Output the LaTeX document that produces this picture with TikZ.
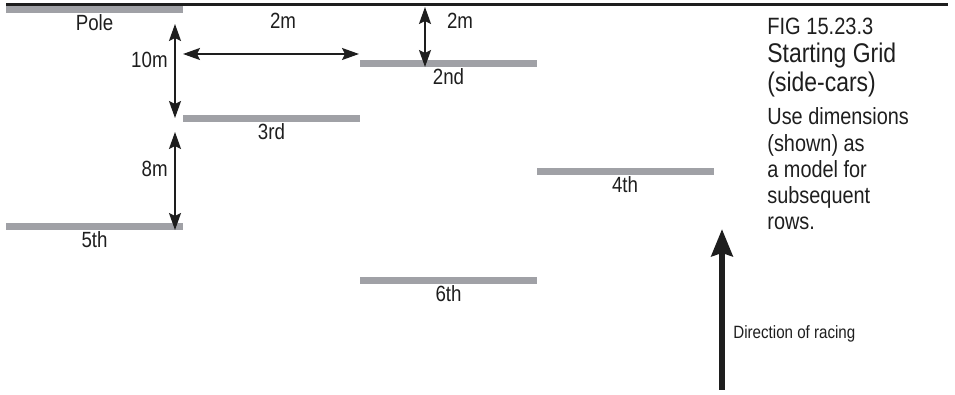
\documentclass[tikz,border=0pt]{standalone}
\usepackage{fontspec}
\setmainfont{Liberation Sans}[FakeStretch=0.85]
\usetikzlibrary{arrows.meta}

\definecolor{bargray}{RGB}{160,161,166}
\definecolor{inkblack}{RGB}{30,30,30}

\tikzset{
  gridbar/.style={fill=bargray, inner sep=0pt, minimum width=88.5pt, minimum height=3.5pt},
  dimarrow/.style={line width=1pt, inkblack,
    {Stealth[length=8.5pt,width=6pt,inset=1.5pt]}-{Stealth[length=8.5pt,width=6pt,inset=1.5pt]}},
  racearrow/.style={line width=3pt, inkblack, -{Stealth[length=13.5pt,width=10.5pt,inset=1.5pt]}},
  lbl/.style={font=\fontsize{11}{13}\selectfont, text=inkblack, inner sep=0pt, anchor=base},
  note/.style={text=inkblack, inner sep=0pt, anchor=base west},
}

\begin{document}
\begin{tikzpicture}[x=0.5pt,y=-0.5pt]
                \useasboundingbox (0,0) rectangle (955,395);
                \draw [line width=1.1pt, inkblack] (6,4.5) -- (948,4.5);
                \foreach \name/\x/\y/\txt in {pole/94.5/10/Pole, second/448.5/64/2nd, third/271.5/119/3rd,
                                              fourth/625/172/4th, fifth/94.5/227/5th, sixth/448.5/281/6th}{
                    \node [gridbar] (\name) at (\x,\y) {};
                    \path (\name.center) ++(0,21) node[lbl] (\name-lbl) {\txt};
                }
                \coordinate (tenm-a) at (175,24);
                \coordinate (tenm-b) at (175,118);
                \coordinate (eightm-a) at (175,132);
                \coordinate (eightm-b) at (175,230);
                \coordinate (gap-a) at (183,54);
                \coordinate (gap-b) at (359,54);
                \coordinate (stag-a) at (425,7);
                \coordinate (stag-b) at (425,67);
                \coordinate (race-a) at (722,390);
                \coordinate (race-b) at (722,229);
                \draw [dimarrow] (tenm-a) -- (tenm-b);
                \draw [dimarrow] (eightm-a) -- (eightm-b);
                \draw [dimarrow] (gap-a) -- (gap-b);
                \draw [dimarrow] (stag-a) -- (stag-b);
                \draw [racearrow] (race-a) -- (race-b);
                \node [lbl, anchor=base east] (tenm-lbl) at (168,68) {10m};
                \node [lbl, anchor=base east] (eightm-lbl) at (168,177) {8m};
                \node [lbl] (gap-lbl) at (283,29) {2m};
                \node [lbl] (stag-lbl) at (460,29) {2m};
                \node [note, font=\fontsize{8.9}{10}\selectfont] (race-lbl) at (733,339) {Direction of racing};
                \node [note, font=\fontsize{11.8}{13}\selectfont] (fig) at (767,35) {FIG 15.23.3};
                \node [note, font=\fontsize{13.5}{15}\selectfont] (title1) at (767,63) {Starting Grid};
                \node [note, font=\fontsize{13.5}{15}\selectfont] (title2) at (767,92) {(side-cars)};
                \node [note, font=\fontsize{11.7}{13}\selectfont] (use1) at (767,125) {Use dimensions};
                \node [note, font=\fontsize{11.7}{13}\selectfont] (use2) at (767,152) {(shown) as};
                \node [note, font=\fontsize{11.7}{13}\selectfont] (use3) at (767,178) {a model for};
                \node [note, font=\fontsize{11.7}{13}\selectfont] (use4) at (767,204) {subsequent};
                \node [note, font=\fontsize{11.7}{13}\selectfont] (use5) at (767,230) {rows.};
            \end{tikzpicture}
\end{document}
